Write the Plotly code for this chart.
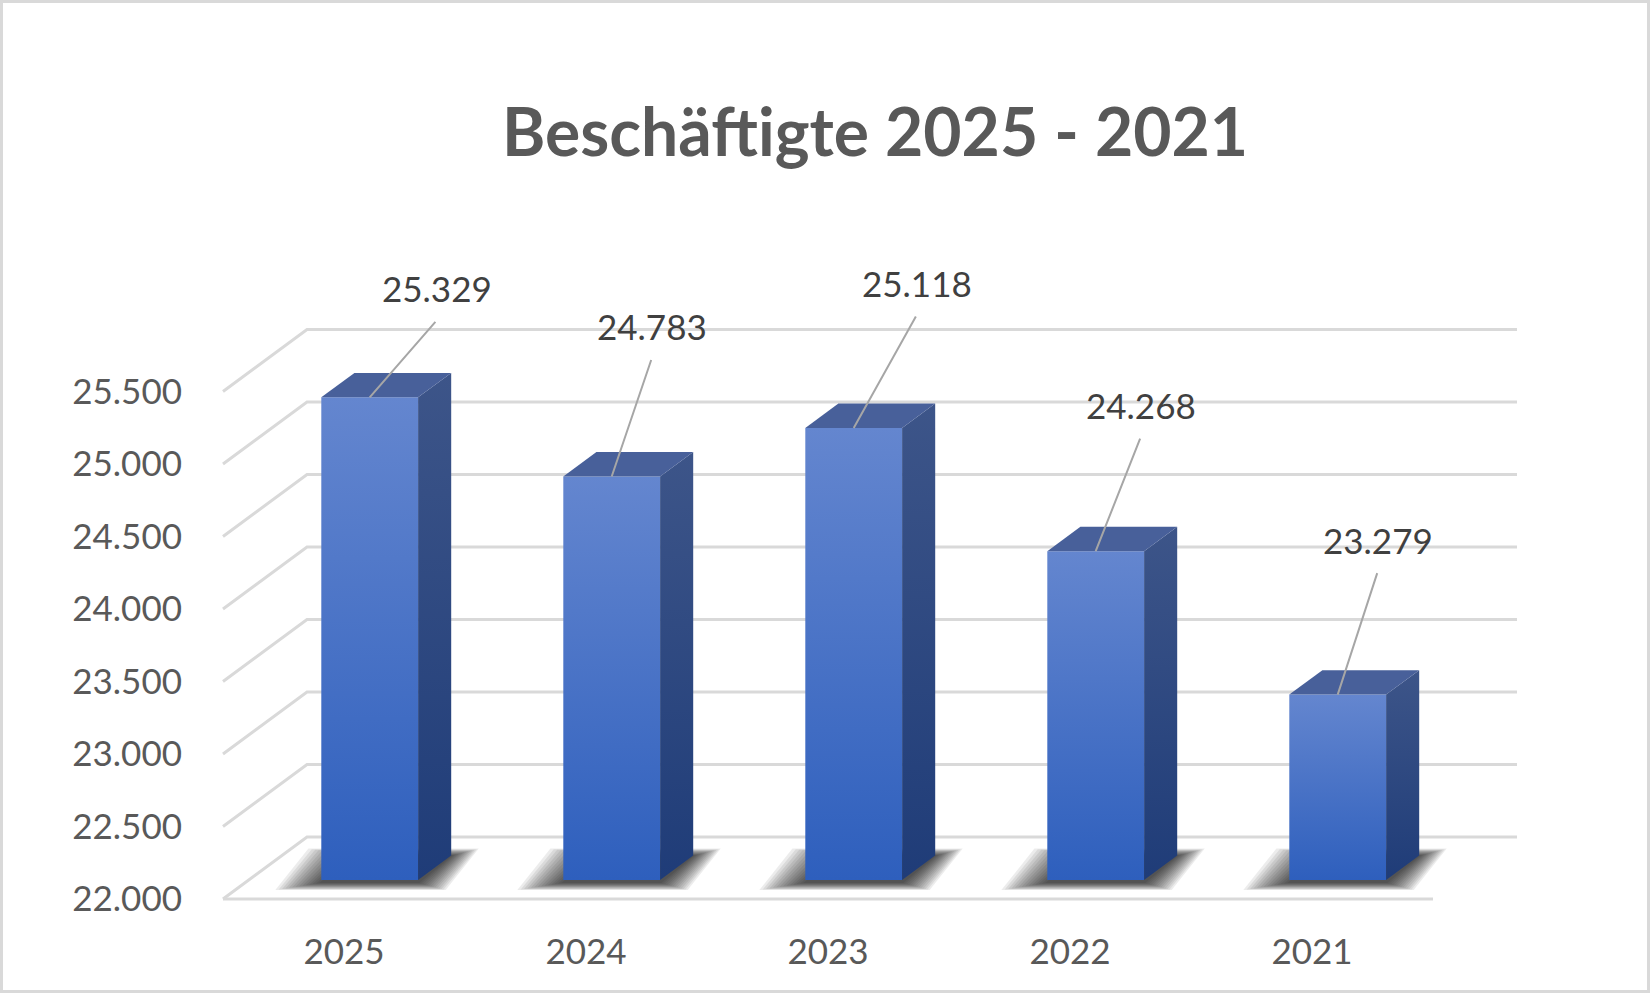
import plotly.graph_objects as go

# data
YEARS = ["2025", "2024", "2023", "2022", "2021"]
EMPLOYEES = [25329, 24783, 25118, 24268, 23279]
Y_TICKS = [22000, 22500, 23000, 23500, 24000, 24500, 25000, 25500]
Y_TICK_LABELS = ["22.000", "22.500", "23.000", "23.500", "24.000", "24.500", "25.000", "25.500"]

# label offsets (pixels) from the bar top to the label centre
LABEL_DX = [67, 40, 63, 45, 40]
LABEL_DY = [-109, -150, -145, -146, -155]

W, H = 1650, 993
X0_PX, CAT_PX = 223, 242          # front plane: x=-0.5 at 223 px, 242 px per category
FLOOR_PX, PX_PER_VAL = 899, 72.5 / 500
Y_MIN = Y_TICKS[0]
ML, MR, MT, MB = 213, 4, 4, 89

DEPTH_X = 84 / CAT_PX             # full depth of the box, in axis units
DEPTH_Y = 62 / PX_PER_VAL
BAR_FRONT, BAR_BACK, BAR_HALF = 0.306, 0.70, 0.2

GRID = "#d9d9d9"
fig = go.Figure()

# walls / floor grid
gx, gy = [], []
for v in Y_TICKS:
    gx += [-0.5, -0.5 + DEPTH_X, len(YEARS) - 0.5 + DEPTH_X, None]
    gy += [v, v + DEPTH_Y, v + DEPTH_Y, None]
gx += [-0.5, len(YEARS) - 0.5, None]
gy += [Y_MIN, Y_MIN, None]
fig.add_trace(go.Scatter(x=gx, y=gy, mode="lines", line=dict(color=GRID, width=3),
                         hoverinfo="skip", showlegend=False))

dDX = (BAR_BACK - BAR_FRONT) * DEPTH_X
dDY = (BAR_BACK - BAR_FRONT) * DEPTH_Y


def poly(xs, ys, **kw):
    fig.add_trace(go.Scatter(x=xs + [xs[0]], y=ys + [ys[0]], mode="lines", fill="toself",
                             line=dict(width=0), hoverinfo="skip", showlegend=False, **kw))


# soft floor shadows: stacked, shrinking copies of the footprint
N_SHADOW = 14
for i, v in enumerate(EMPLOYEES):
    xl = i + BAR_FRONT * DEPTH_X - BAR_HALF
    xr = xl + 2 * BAR_HALF
    b0 = Y_MIN + BAR_FRONT * DEPTH_Y
    for k in range(N_SHADOW):
        t = 1 - k / (N_SHADOW - 1)
        e = (44 * t + 2) / CAT_PX
        f = (7 * t + 3) / PX_PER_VAL
        b = (7 * t) / PX_PER_VAL
        poly([xl - e, xr + e * 0.6, xr + dDX + e * 0.6, xl + dDX - e],
             [b0 - f, b0 - f, b0 + dDY + b, b0 + dDY + b],
             fillcolor="rgba(0,0,0,0.075)")

# the 3D bars
for i, v in enumerate(EMPLOYEES):
    xl = i + BAR_FRONT * DEPTH_X - BAR_HALF
    xr = xl + 2 * BAR_HALF
    b0 = Y_MIN + BAR_FRONT * DEPTH_Y
    top = b0 + (v - Y_MIN)
    poly([xl, xr, xr, xl], [b0, b0, top, top], fillcolor="#4472c4",
         fillgradient=dict(type="vertical", colorscale=[[0, "#2e5fbd"], [1, "#6486cf"]]))
    poly([xr, xr + dDX, xr + dDX, xr], [b0, b0 + dDY, top + dDY, top], fillcolor="#2f4b85",
         fillgradient=dict(type="vertical", colorscale=[[0, "#1f3c78"], [1, "#3d5589"]]))
    poly([xl, xr, xr + dDX, xl + dDX], [top, top, top + dDY, top + dDY], fillcolor="#48609a")

    # leader line + value label
    fig.add_annotation(x=i + BAR_FRONT * DEPTH_X, y=top, text="", showarrow=True,
                       arrowhead=0, arrowwidth=2, arrowcolor="#a6a6a6",
                       ax=LABEL_DX[i], ay=LABEL_DY[i] + 32)
    fig.add_annotation(x=i + BAR_FRONT * DEPTH_X, y=top, text=f"{v:,}".replace(",", "."),
                       showarrow=False, xshift=LABEL_DX[i], yshift=-LABEL_DY[i],
                       font=dict(family="Lato", size=35, color="#404040"))

x_range = [(ML - X0_PX) / CAT_PX - 0.5, (W - MR - X0_PX) / CAT_PX - 0.5]
y_range = [Y_MIN - (H - MB - FLOOR_PX) / PX_PER_VAL, Y_MIN + (FLOOR_PX - MT) / PX_PER_VAL]

fig.update_xaxes(range=x_range, tickvals=list(range(len(YEARS))), ticktext=YEARS,
                 showgrid=False, zeroline=False, showline=False, ticks="",
                 ticklabelstandoff=24, tickfont=dict(family="Lato", size=35, color="#595959"))
fig.update_yaxes(range=y_range, tickvals=Y_TICKS, ticktext=Y_TICK_LABELS,
                 showgrid=False, zeroline=False, showline=False, ticks="",
                 ticklabelstandoff=30, tickfont=dict(family="Lato", size=35, color="#595959"))

# outer frame of the chart
pw, ph = W - ML - MR, H - MT - MB
fig.add_shape(type="rect", xref="paper", yref="paper",
              x0=(1.5 - ML) / pw, x1=(W - 1.5 - ML) / pw,
              y0=(1.5 - MB) / ph, y1=(H - 1.5 - MB) / ph,
              line=dict(color=GRID, width=3))

fig.update_layout(
    width=W, height=H,
    margin=dict(l=ML, r=MR, t=MT, b=MB),
    plot_bgcolor="white", paper_bgcolor="white",
    showlegend=False,
    title=dict(text="Beschäftigte 2025 - 2021", xref="container", yref="container",
               x=875 / W, y=1 - 133 / H, xanchor="center", yanchor="middle",
               font=dict(family="Lato", size=66, weight="bold", color="#595959")),
)

fig.write_html("out.html", config={"displayModeBar": False},
               post_script="document.body.style.margin = '0';")
